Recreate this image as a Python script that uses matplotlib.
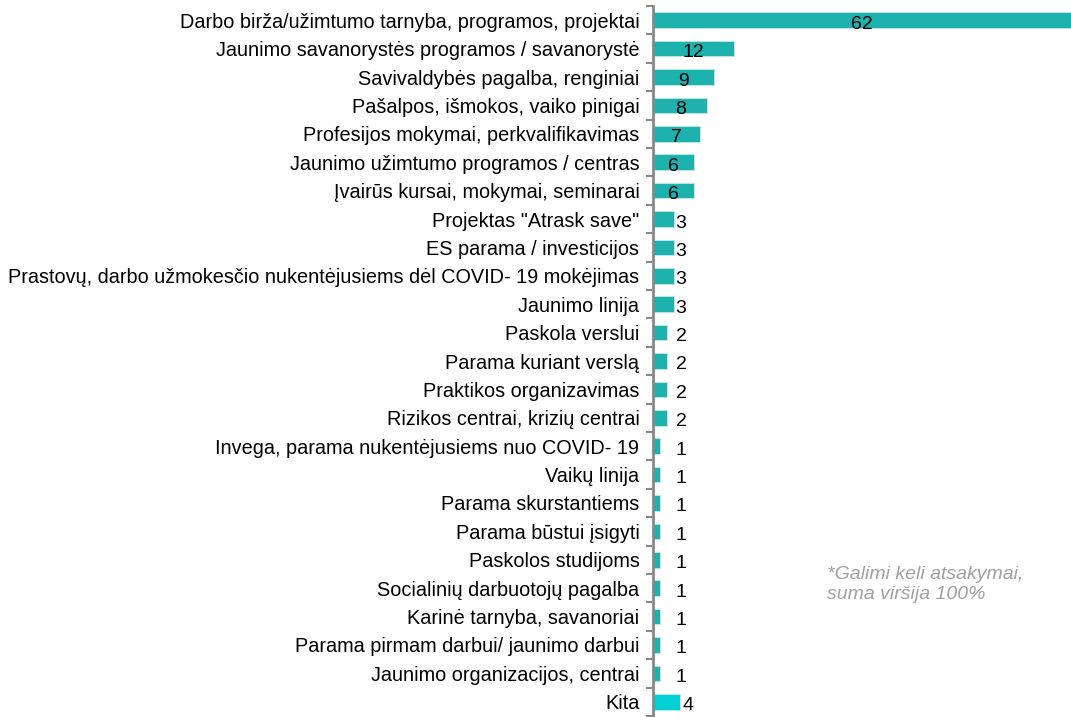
import matplotlib.pyplot as plt
import numpy as np

plt.rcParams['font.family'] = ['Liberation Sans', 'DejaVu Sans']

# kategorijos ir reikšmės (iš viršaus į apačią)
labels = [
    "Darbo birža/užimtumo tarnyba, programos, projektai",
    "Jaunimo savanorystės programos / savanorystė",
    "Savivaldybės pagalba, renginiai",
    "Pašalpos, išmokos, vaiko pinigai",
    "Profesijos mokymai, perkvalifikavimas",
    "Jaunimo užimtumo programos / centras",
    "Įvairūs kursai, mokymai, seminarai",
    "Projektas \"Atrask save\"",
    "ES parama / investicijos",
    "Prastovų, darbo užmokesčio nukentėjusiems dėl COVID- 19 mokėjimas",
    "Jaunimo linija",
    "Paskola verslui",
    "Parama kuriant verslą",
    "Praktikos organizavimas",
    "Rizikos centrai, krizių centrai",
    "Invega, parama nukentėjusiems nuo COVID- 19",
    "Vaikų linija",
    "Parama skurstantiems",
    "Parama būstui įsigyti",
    "Paskolos studijoms",
    "Socialinių darbuotojų pagalba",
    "Karinė tarnyba, savanoriai",
    "Parama pirmam darbui/ jaunimo darbui",
    "Jaunimo organizacijos, centrai",
    "Kita",
]
values = [62, 12, 9, 8, 7, 6, 6, 3, 3, 3, 3, 2, 2, 2, 2, 1, 1, 1, 1, 1, 1, 1, 1, 1, 4]

main_color = "#1db2ae"
other_color = "#00d0d4"
colors = [main_color] * (len(values) - 1) + [other_color]

fig = plt.figure(figsize=(10.71, 7.17), dpi=100)
ax = fig.add_axes([0.61, 0.0015, 0.39, 0.99])

y = np.arange(len(values))
ax.barh(y, values, height=0.55, color=colors, edgecolor="#bfe9e8", linewidth=0.6)

ax.set_xlim(0, 62)
ax.set_ylim(len(values) - 0.5, -0.5)

# reikšmių etiketės: didelės - bare per vidurį, mažos - šalia
for i, v in enumerate(values):
    if v >= 6:
        ax.text(v / 2, i + 0.14, str(v), ha="center", va="center", fontsize=14, color="black")
    else:
        ax.text(max(v, 3) + 0.3, i + 0.14, str(v), ha="left", va="center", fontsize=14, color="black")

ax.set_yticks(y)
ax.set_yticklabels(labels, fontsize=14.3)
ax.tick_params(axis="y", which="major", length=0, pad=10)
ax.set_yticks(np.arange(-0.5, len(values), 1), minor=True)
ax.tick_params(axis="y", which="minor", length=5, width=1.5, color="#888888")

ax.set_xticks([])
for s in ["top", "right", "bottom"]:
    ax.spines[s].set_visible(False)
ax.spines["left"].set_color("#888888")
ax.spines["left"].set_linewidth(2)

fig.text(0.772, 0.185, "*Galimi keli atsakymai,\nsuma viršija 100%", fontsize=14,
         style="italic", color="#a0a0a0", ha="left", va="center", linespacing=1.25)

fig.savefig("out.png", dpi=100)
